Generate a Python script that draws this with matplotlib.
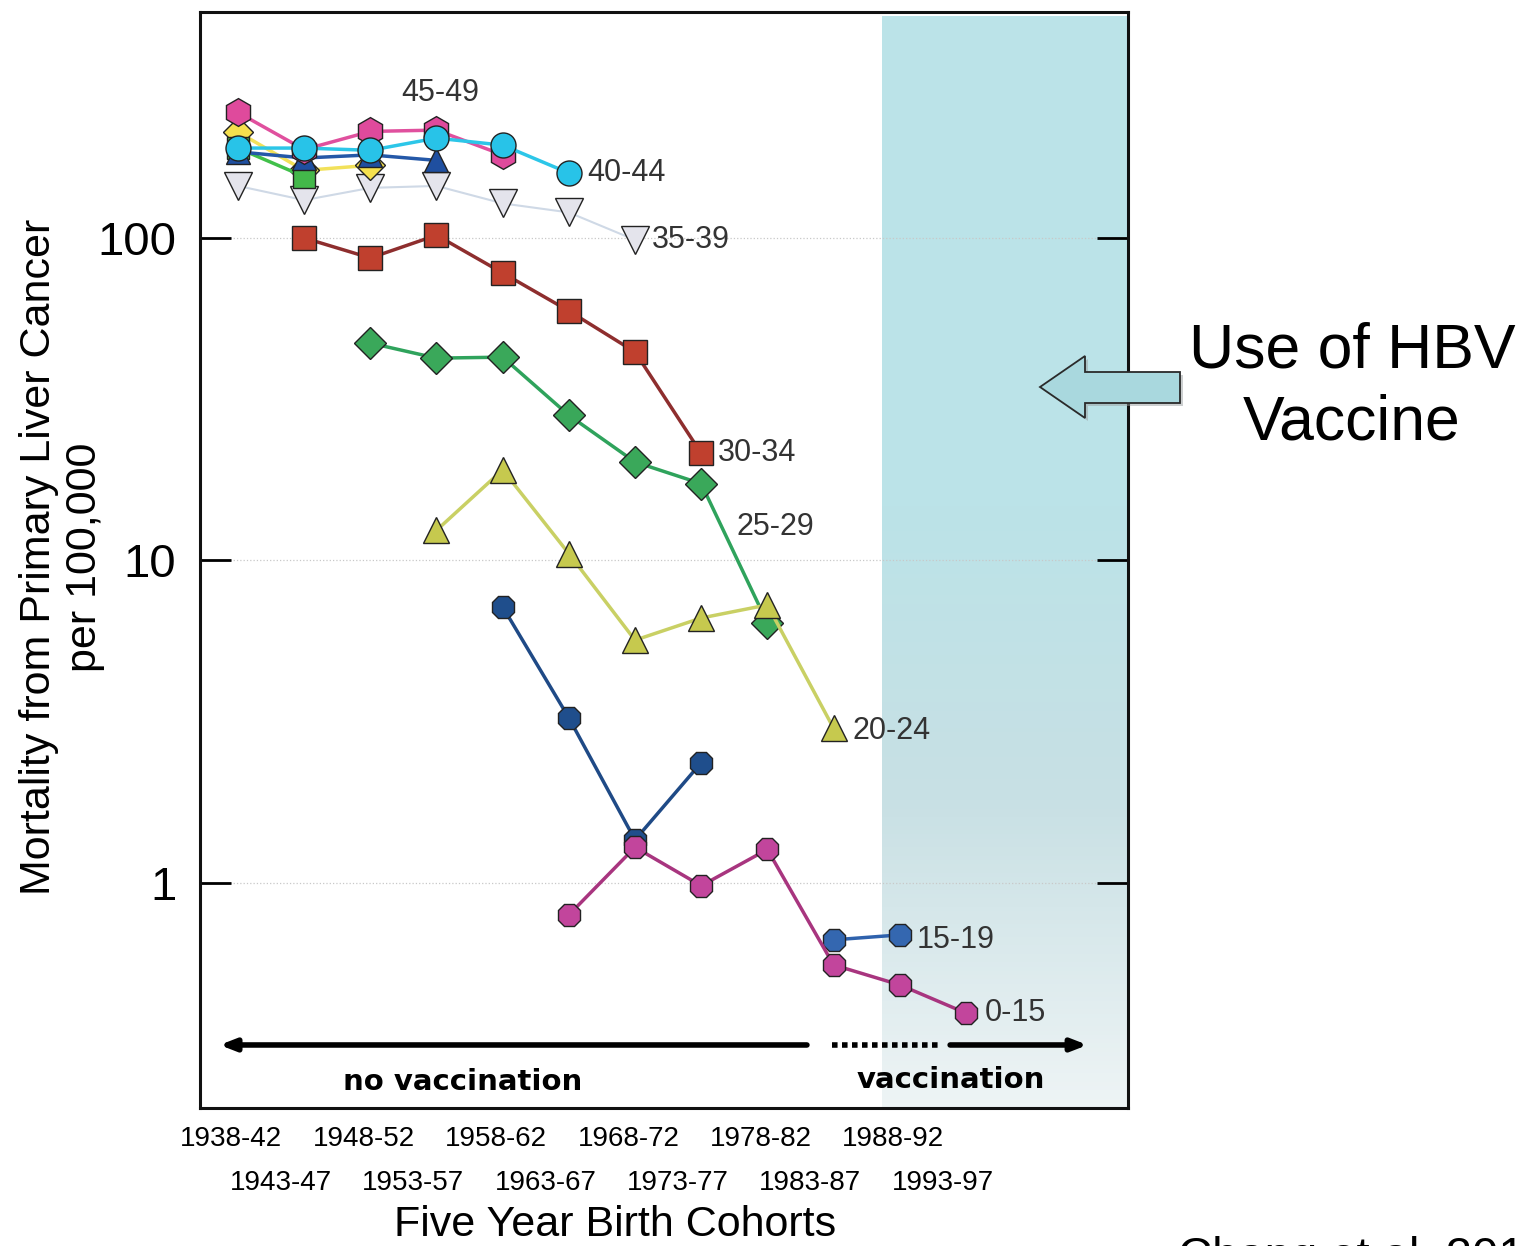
import numpy as np
import matplotlib
matplotlib.use('Agg')
import matplotlib.pyplot as plt
from matplotlib.patches import Polygon

plt.rcParams['font.family'] = ['Liberation Sans', 'DejaVu Sans']

# birth cohorts (x axis)
cohorts = ['1938-42', '1943-47', '1948-52', '1953-57', '1958-62', '1963-67',
           '1968-72', '1973-77', '1978-82', '1983-87', '1988-92', '1993-97']
nan = np.nan

# mortality per 100,000 by age group (log scale)
age_60_64 = [213, 162, 168, nan, nan, nan, nan, nan, nan, nan, nan, nan]
age_55_59 = [190, 155, nan, nan, nan, nan, nan, nan, nan, nan, nan, nan]
age_50_54 = [185, 177, 181, 174, nan, nan, nan, nan, nan, nan, nan, nan]
age_45_49 = [245, 188, 214, 216, 181, nan, nan, nan, nan, nan, nan, nan]
age_40_44 = [190, 190, 187, 204, 194, 159, nan, nan, nan, nan, nan, nan]
age_35_39 = [145, 131, 143, 145, 128, 120, 98.6, nan, nan, nan, nan, nan]
age_30_34 = [nan, 100, 86.7, 102, 77.9, 59.4, 44.3, 21.5, nan, nan, nan, nan]
age_25_29 = [nan, nan, 47.2, 42.4, 42.7, 28.2, 20.2, 17.3, 6.4, nan, nan, nan]
age_20_24 = [nan, nan, nan, 12.4, 19.1, 10.5, 5.66, 6.63, 7.28, 3.02, nan, nan]
age_15_19 = [nan, nan, nan, nan, 7.18, 3.25, 1.36, 2.36, nan, 0.666, 0.69, nan]
age_0_15 = [nan, nan, nan, nan, nan, 0.796, 1.29, 0.98, 1.27, 0.557, 0.483, 0.395]

x = np.arange(len(cohorts))

fig = plt.figure(figsize=(15.26, 12.46), dpi=100)
ax = fig.add_axes([200 / 1526, 138 / 1246, 928 / 1526, 1096 / 1246])
ax.set_yscale('log')

# vaccination era shading
rows = np.linspace(0, 1, 256)
top = np.array([187, 227, 232]) / 255
mid = np.array([200, 224, 228]) / 255
bot = np.array([238, 244, 245]) / 255
grad = np.zeros((256, 1, 3))
for i, t in enumerate(rows):
    if t < 0.45:
        c = top
    elif t < 0.72:
        c = top + (mid - top) * (t - 0.45) / 0.27
    else:
        c = mid + (bot - mid) * (t - 0.72) / 0.28
    grad[i, 0] = c
ax.imshow(grad, extent=[9.73, 13.45, 0, 0.997], transform=ax.get_xaxis_transform(),
          aspect='auto', origin='upper', zorder=0)
ax.set_xlim(-0.574, 13.45)
ax.set_ylim(0.2005, 502)

ax.grid(which='both', axis='y', ls=':', color='#c8c8c8', lw=0.9, zorder=1)

kw = dict(mec='#222222', mew=1.0, zorder=3)
ax.plot(x, age_35_39, c='#cfd9e6', lw=1.5, marker='v', ms=20, mfc='#e4e4ec', **kw)
ax.plot(x, age_60_64, c='#f2e15a', lw=2.5, marker='D', ms=15, mfc='#f5e04e', **kw)
ax.plot(x, age_55_59, c='#41c04a', lw=2.5, marker='s', ms=16, mfc='#43b84a', **kw)
ax.plot(x, age_50_54, c='#2458a8', lw=2.5, marker='^', ms=17, mfc='#1f4fa0', **kw)
ax.plot(x, age_45_49, c='#e0509e', lw=2.5, marker='h', ms=20, mfc='#df4a9c', **kw)
ax.plot(x, age_40_44, c='#2cc6e8', lw=2.5, marker='o', ms=18, mfc='#28c3e8', **kw)
ax.plot(x, age_30_34, c='#8e2e2e', lw=2.5, marker='s', ms=17, mfc='#c0402e', **kw)
ax.plot(x, age_25_29, c='#2fa35c', lw=2.5, marker='D', ms=16, mfc='#3aa85a', **kw)
ax.plot(x, age_20_24, c='#c9d064', lw=2.5, marker='^', ms=19, mfc='#c6c94e', **kw)
ax.plot(x[:8], age_15_19[:8], c='#1f4a86', lw=2.5, marker='8', ms=17, mfc='#1f4e8c', **kw)
ax.plot(x[8:], age_15_19[8:], c='#2f62ad', lw=2.5, marker='8', ms=17, mfc='#3467b0', **kw)
ax.plot(x, age_0_15, c='#a8357f', lw=2.5, marker='8', ms=17, mfc='#c2459c', **kw)

# series labels
lab = dict(fontsize=22, color='#333333', zorder=4)
ax.text(3.05, 282, '45-49', ha='center', va='center', **lab)
ax.text(5.28, 159, '40-44', ha='left', va='center', **lab)
ax.text(6.25, 98.6, '35-39', ha='left', va='center', **lab)
ax.text(7.25, 21.5, '30-34', ha='left', va='center', **lab)
ax.text(7.53, 12.7, '25-29', ha='left', va='center', **lab)
ax.text(9.28, 2.95, '20-24', ha='left', va='center', **lab)
ax.text(10.25, 0.665, '15-19', ha='left', va='center', **lab)
ax.text(11.28, 0.395, '0-15', ha='left', va='center', **lab)

# axis ticks
ax.set_yticks([1, 10, 100])
ax.set_yticklabels(['1', '10', '100'])
ax.yaxis.set_minor_locator(matplotlib.ticker.NullLocator())
ax.tick_params(axis='y', which='major', direction='in', length=22, width=2,
               labelsize=34, pad=17, right=True)
ax.set_xticks(x)
ax.set_xticklabels([])
ax.tick_params(axis='x', length=0)
for s in ax.spines.values():
    s.set_linewidth(2.2)
    s.set_color('#111111')

narrow = ['Liberation Sans Narrow', 'Liberation Sans', 'DejaVu Sans']
xt = ax.get_xaxis_transform()
for i, c in enumerate(cohorts):
    if i % 2 == 0:
        ax.text(x[i] - 0.1, -0.028, c, transform=xt, ha='center', va='center',
                fontsize=20, family=narrow, clip_on=False)
    else:
        ax.text(x[i] - 0.35, -0.068, c, transform=xt, ha='center', va='center',
                fontsize=20, family=narrow, clip_on=False)

# vaccination arrows
ay = 0.0575
ax.annotate('', xy=(-0.32, ay), xytext=(8.64, ay), xycoords=xt, textcoords=xt,
            arrowprops=dict(arrowstyle='-|>,head_length=0.9,head_width=0.35', lw=4, color='black'))
ax.plot([8.98, 10.6], [ay, ay], transform=xt, ls=(0, (1, 0.8)), lw=4, color='black')
ax.annotate('', xy=(12.88, ay), xytext=(10.72, ay), xycoords=xt, textcoords=xt,
            arrowprops=dict(arrowstyle='-|>,head_length=0.9,head_width=0.35', lw=4, color='black'))
ax.text(3.4, 0.024, 'no vaccination', transform=xt, ha='center', va='center',
        fontsize=21, fontweight='bold', family='DejaVu Sans')
ax.text(10.77, 0.026, 'vaccination', transform=xt, ha='center', va='center',
        fontsize=21, fontweight='bold', family='DejaVu Sans')

# labels outside the axes
fig.text(62 / 1526, 1 - 557 / 1246, 'Mortality from Primary Liver Cancer\nper 100,000',
         rotation=90, ha='center', va='center', multialignment='center',
         fontsize=31, linespacing=1.2)
fig.text(615 / 1526, 1 - 1225 / 1246, 'Five Year Birth Cohorts', ha='center', va='center',
         fontsize=31, family=narrow)

ov = fig.add_axes([0, 0, 1, 1], zorder=5)
ov.set_xlim(0, 1526)
ov.set_ylim(1246, 0)
ov.axis('off')
shadow = Polygon([(1043, 390), (1088, 359), (1088, 375), (1183, 375), (1183, 406),
                  (1088, 406), (1088, 421)], closed=True, fc='#9aa0a2', ec='none', alpha=0.5)
ov.add_patch(shadow)
arrow = Polygon([(1040, 387), (1085, 356), (1085, 372), (1180, 372), (1180, 403),
                 (1085, 403), (1085, 418)], closed=True, fc='#a9d8de', ec='#2a2a2a', lw=1.3)
ov.add_patch(arrow)
ov.text(1352, 387, 'Use of HBV\nVaccine', ha='center', va='center', fontsize=45,
        linespacing=1.3)
ov.text(1365, 1236, 'Chang et al. 2016', ha='center', va='top', fontsize=34)

fig.savefig('out.png', dpi=100)
